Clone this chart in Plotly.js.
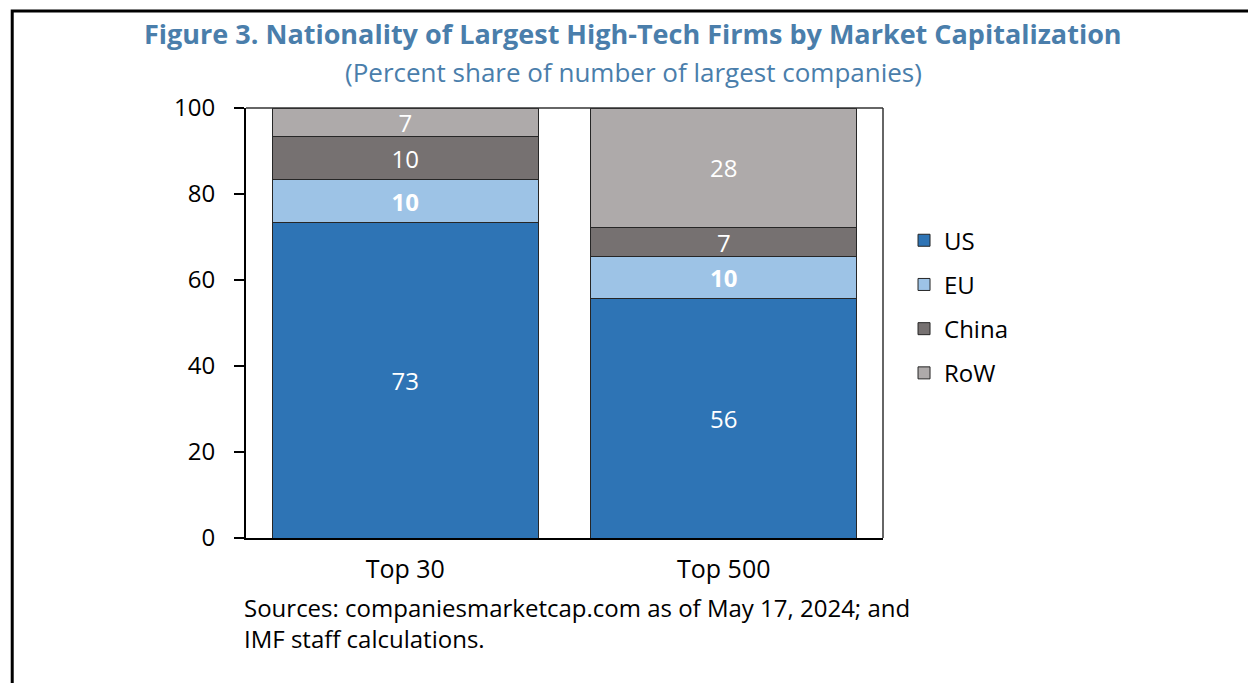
<!DOCTYPE html>
<html>
<head>
<meta charset="utf-8">
<script src="https://cdn.plot.ly/plotly-3.0.1.min.js"></script>
<style>html,body{margin:0;padding:0;background:#fff;}#chart{width:1248px;height:683px;}</style>
</head>
<body>
<div id="chart"></div>
<script>
const categories = ["Top 30", "Top 500"];
const usValues = [73.3, 55.6];
const euValues = [10.0, 9.8];
const chinaValues = [10.0, 6.8];
const rowValues = [6.7, 27.8];
const seriesNames = ["US", "EU", "China", "RoW"];
const yTicks = [0, 20, 40, 60, 80, 100];

const FONT = "Open Sans, Noto Sans, sans-serif";
const colors = ["#2e74b5", "#9dc3e6", "#767171", "#aeaaaa"];
const seriesValues = [usValues, euValues, chinaValues, rowValues];

const traces = seriesValues.map((vals, i) => ({
  type: "bar",
  name: seriesNames[i],
  x: categories,
  y: vals,
  legendgroup: "g" + i,
  marker: {color: colors[i], line: {color: "#262626", width: 1}},
  texttemplate: i === 1 ? "<b>%{y:.0f}</b>" : "%{y:.0f}",
  textposition: "inside",
  insidetextanchor: "middle",
  textangle: 0,
  constraintext: "none",
  textfont: {family: FONT, size: 24, color: "#ffffff"},
  hoverinfo: "skip"
}));

const layout = {
  width: 1248, height: 683,
  margin: {l: 246, r: 365, t: 108, b: 145},
  paper_bgcolor: "#ffffff", plot_bgcolor: "#ffffff",
  barmode: "stack",
  bargap: 0.165,
  showlegend: true,
  legend: {
    x: 1.033, y: 0.538, xanchor: "left", yanchor: "middle",
    traceorder: "grouped", tracegroupgap: 10,
    font: {family: FONT, size: 24, color: "#000"},
    itemwidth: 30
  },
  xaxis: {
    type: "category",
    showline: true, linecolor: "#000", linewidth: 2,
    ticks: "", showgrid: false, zeroline: false, ticklabelstandoff: 8,
    tickfont: {family: FONT, size: 25, color: "#000"}
  },
  yaxis: {
    range: [0, 100], tickvals: yTicks, ticktext: yTicks.map(String),
    showline: true, linecolor: "#000", linewidth: 2,
    ticks: "outside", ticklen: 10, tickwidth: 1.5, tickcolor: "#000",
    showgrid: false, zeroline: false, ticklabelstandoff: 14,
    tickfont: {family: FONT, size: 24, color: "#000"}
  },
  shapes: [
    {type: "line", xref: "paper", yref: "paper", x0: 0, x1: 1, y0: 1, y1: 1, line: {color: "#333", width: 1.5}},
    {type: "line", xref: "paper", yref: "paper", x0: 1, x1: 1, y0: 0, y1: 1, line: {color: "#333", width: 1.5}},
    {type: "path", xref: "paper", yref: "paper",
     path: "M -0.367 -0.4 L -0.367 1.2255 L 1.6 1.2255", line: {color: "#000", width: 3}}
  ],
  annotations: [
    {xref: "paper", yref: "paper", x: 0.608, y: 1.174, xanchor: "center", yanchor: "middle", showarrow: false,
     text: "<b>Figure 3. Nationality of Largest High-Tech Firms by Market Capitalization</b>",
     font: {family: FONT, size: 27, color: "#4a7eab"}},
    {xref: "paper", yref: "paper", x: 0.608, y: 1.084, xanchor: "center", yanchor: "middle", showarrow: false,
     text: "(Percent share of number of largest companies)",
     font: {family: FONT, size: 26, color: "#4a7eab"}},
    {xref: "paper", yref: "paper", x: -0.006, y: -0.118, xanchor: "left", yanchor: "top", align: "left", showarrow: false,
     text: "Sources: companiesmarketcap.com as of May 17, 2024; and<br>IMF staff calculations.",
     font: {family: FONT, size: 24, color: "#000"}}
  ]
};

Plotly.newPlot("chart", traces, layout, {displayModeBar: false, staticPlot: true});
</script>
</body>
</html>
